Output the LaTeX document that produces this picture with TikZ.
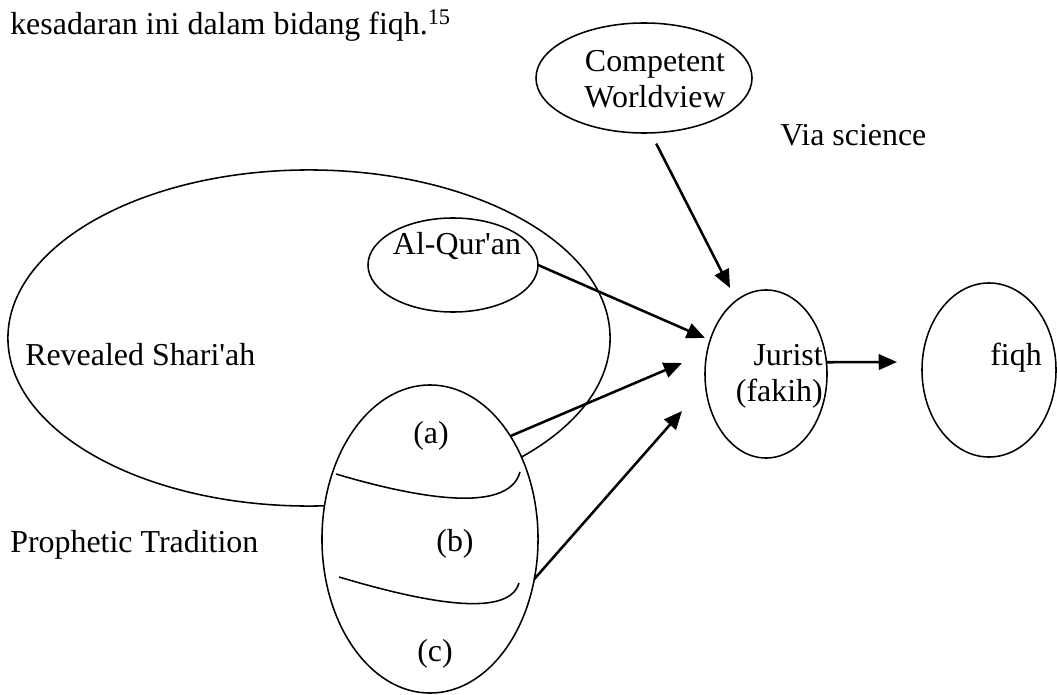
\documentclass[tikz,border=0pt]{standalone}
\usepackage{fontspec}
\setmainfont{Liberation Serif}[Ligatures=TeXOff]
\usepackage{tikz}
\usetikzlibrary{shapes.geometric}
\usetikzlibrary{arrows.meta}
\tikzset{oval/.style={draw, ellipse, inner sep=0pt, outer sep=0pt, line width=1.1pt},
 lbl/.style={inner sep=0pt, anchor=base, font=\fontsize{22.7pt}{25.5pt}\selectfont},
 arr/.style={line width=1.8pt, -{Triangle[length=13pt,width=11pt]}},
 divider/.style={line width=1.1pt},
 }
\begin{document}
\begin{tikzpicture}[x=0.025cm, y=-0.025cm]
        \useasboundingbox (0,0) rectangle (1057,695);
        \node[lbl, anchor=base west] (intro) at (10,35) {kesadaran ini dalam bidang fiqh.\textsuperscript{15}};
        \node[oval, minimum width=15.05cm, minimum height=8.4cm] (shariah) at (309,338) {};
        \node[oval, minimum width=4.25cm, minimum height=2.35cm] (quran) at (453,265) {};
        \node[oval, fill=white, minimum width=5.4cm, minimum height=7.7cm] (egg) at (430,539) {};
        \draw[divider] (336,474) .. controls (410,496) and (508,516) .. (520,472);
        \draw[divider] (339,577) .. controls (413,599) and (508,621) .. (519,583);
        \node[oval, minimum width=5.4cm, minimum height=2.75cm] (cw) at (644,78) {};
        \node[oval, minimum width=3.05cm, minimum height=4.2cm] (jurist) at (766,374) {};
        \node[oval, minimum width=3.35cm, minimum height=4.35cm] (fiqh) at (989,370) {};
        \node[lbl, anchor=center, align=center] (cwtext) at (655,79) {Competent\\Worldview};
        \node[lbl, anchor=east, align=right] (jtext) at (823,376) {Jurist\\(fakih)};
        \node[lbl] (qtext) at (457,255) {Al-Qur'an};
        \node[lbl, anchor=base west] (stext) at (25,365) {Revealed Shari'ah};
        \node[lbl, anchor=base west] (ptext) at (10,552) {Prophetic Tradition};
        \node[lbl, anchor=base west] (vtext) at (780,146) {Via science};
        \node[lbl] (la) at (431,443) {(a)};
        \node[lbl] (lb) at (455,551) {(b)};
        \node[lbl] (lc) at (435,661) {(c)};
        \node[lbl] (ftext) at (1016,365) {fiqh};
        \coordinate (tipcw) at (730,288);
        \coordinate (tipq) at (705,338);
        \coordinate (tipa) at (682,363);
        \coordinate (tipb) at (682,411);
        \coordinate (tipf) at (897,362);
        \draw[arr, shorten <=8.5pt] (cw.-83) -- (tipcw);
        \draw[arr] (quran.east) -- (tipq);
        \draw[arr] (egg.52) -- (tipa);
        \draw[arr] (egg.-21) -- (tipb);
        \draw[arr] (jurist.11) -- (tipf);
    \end{tikzpicture}
\end{document}
